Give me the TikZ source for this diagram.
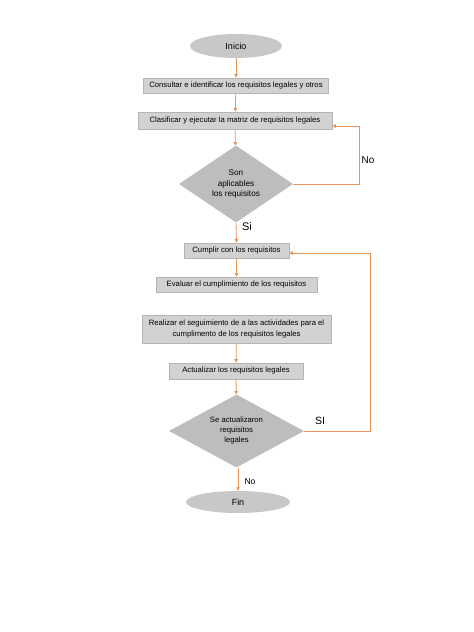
\documentclass[tikz,border=0pt]{standalone}
\usepackage{fontspec}
\setmainfont{Liberation Sans}
\usetikzlibrary{shapes.geometric,arrows.meta,positioning,calc}
\definecolor{boxgray}{HTML}{D2D2D2}
\definecolor{boxedge}{HTML}{B4B4B4}
\definecolor{diagray}{HTML}{BDBDBD}
\definecolor{ellgray}{HTML}{C8C8C8}
\definecolor{arr}{HTML}{E8955A}
\tikzset{
  procbox/.style={rectangle, fill=boxgray, draw=boxedge, line width=0.6pt, inner sep=0pt, font=\fontsize{7.7}{11}\selectfont, align=center},
  decis/.style={diamond, fill=diagray, draw=none, inner sep=0pt, aspect=1.5, align=center},
  term/.style={ellipse, fill=ellgray, draw=none, inner sep=0pt, font=\fontsize{9}{10}\selectfont},
  flow/.style={draw=arr, line width=0.8pt, -{Triangle[length=3.5pt,width=3.5pt]}},
  lbl/.style={inner sep=0pt}
}
\begin{document}
\begin{tikzpicture}[x=1pt,y=-1pt]
\useasboundingbox (0,0) rectangle (474,632);
\node[term, minimum width=92pt, minimum height=24pt] (inicio) at (236,46) {Inicio};
\node[procbox, minimum width=185pt, minimum height=15pt] (b1) at (236,85.5) {Consultar e identificar los requisitos legales y otros};
\node[procbox, minimum width=194pt, minimum height=17pt] (b2) at (235,120.5) {Clasificar y ejecutar la matriz de requisitos legales};
\node[decis, minimum width=114pt, minimum height=77pt, font=\fontsize{8.2}{10.5}\selectfont] (d1) at (236,184) {Son\\aplicables\\los requisitos};
\node[procbox, minimum width=105pt, minimum height=15pt] (b3) at (236.5,250.5) {Cumplir con los requisitos};
\node[procbox, minimum width=161pt, minimum height=15pt] (b4) at (236.5,284.5) {Evaluar el cumplimiento de los requisitos};
\node[procbox, minimum width=189pt, minimum height=28pt] (b5) at (236.5,329) {Realizar el seguimiento de a las actividades para el\\cumplimento de los requisitos legales};
\node[procbox, minimum width=134pt, minimum height=16pt] (b6) at (236,371) {Actualizar los requisitos legales};
\node[decis, minimum width=135pt, minimum height=73pt, font=\fontsize{7.7}{10}\selectfont] (d2) at (236.5,431) {Se actualizaron\\requisitos\\legales};
\node[term, minimum width=104pt, minimum height=22pt] (fin) at (238,502) {Fin};

\coordinate (noc) at (359,126);
\coordinate (sic) at (370,253);

\draw[flow] (inicio) -- (b1);
\draw[flow] (b1) -- (b2);
\draw[flow] (b2) -- (d1);
\draw[flow] (d1.south) -- (b3.north);
\draw[flow] (d1.east) -| (noc) -- (b2.east |- noc);
\draw[flow] (b3) -- (b4);
\draw[flow] (b5) -- (b6);
\draw[flow] (b6) -- (d2);
\draw[flow] (d2.east) -| (sic) -- (b3.east |- sic);
\draw[flow] (d2.south -| fin) -- (fin.north);

\node[lbl, font=\fontsize{10}{11}\selectfont] (lno1) at (368,160) {No};
\node[lbl, font=\fontsize{11}{12}\selectfont] (lsi1) at (247,227) {Si};
\node[lbl, font=\fontsize{10.5}{11}\selectfont] (lsi2) at (320,421) {SI};
\node[lbl, font=\fontsize{8.6}{10}\selectfont] (lno2) at (250,482) {No};
\end{tikzpicture}
\end{document}
